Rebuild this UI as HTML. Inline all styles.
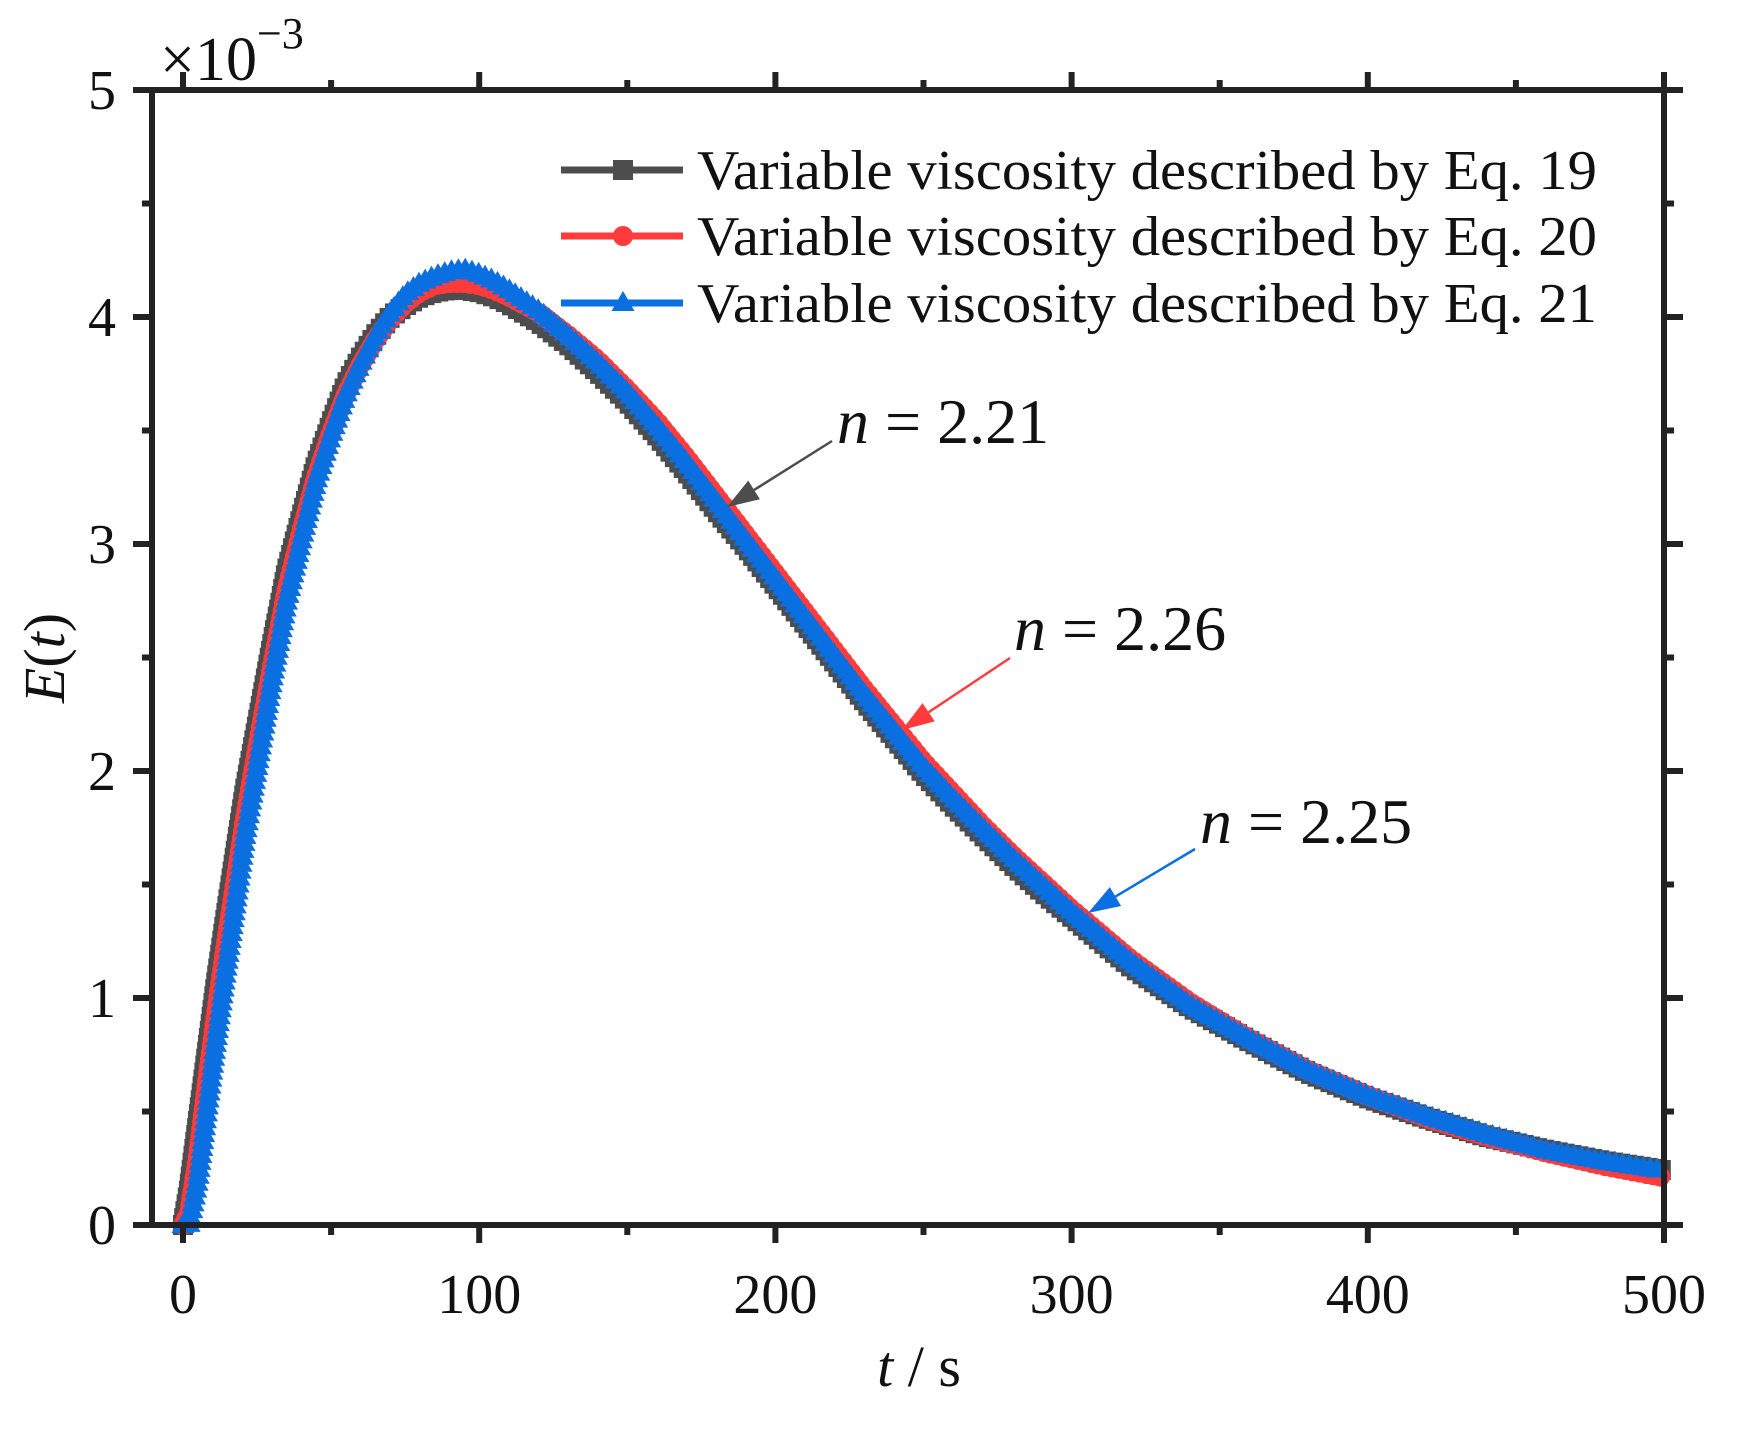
<!DOCTYPE html>
<html><head><meta charset="utf-8"><style>
html,body{margin:0;padding:0;background:#fff;}
svg text{font-family:"Liberation Serif",serif;fill:#111;}
</style></head><body>
<svg id="chart" width="1746" height="1426" viewBox="0 0 1746 1426" xmlns="http://www.w3.org/2000/svg">
<g id="series"></g>
<g id="axes"></g>
<g id="legend"></g>
<g id="annot"></g>
</svg>
<script>
const times = [0,2,5,8,11,14,17,21,25,30,35,40,45,50,55,60,65,70,75,80,85,90,95,100,105,110,120,130,140,150,160,170,180,190,200,210,220,230,240,250,260,270,280,290,300,320,340,360,380,400,420,440,460,480,500];
const eq19 = [0,0.15,0.45,0.75,1.05,1.32,1.58,1.92,2.2,2.55,2.88,3.12,3.35,3.53,3.7,3.82,3.92,4.0,4.05,4.09,4.11,4.12,4.12,4.11,4.09,4.06,3.98,3.88,3.76,3.63,3.48,3.32,3.15,2.99,2.82,2.65,2.48,2.31,2.15,1.99,1.85,1.72,1.59,1.47,1.36,1.14,0.96,0.81,0.67,0.56,0.47,0.39,0.33,0.28,0.24];
const eq20 = [0,0.05,0.3,0.62,0.92,1.2,1.46,1.8,2.1,2.46,2.8,3.06,3.3,3.49,3.66,3.79,3.9,3.99,4.06,4.11,4.14,4.15,4.15,4.14,4.12,4.09,4.02,3.92,3.81,3.68,3.54,3.38,3.21,3.04,2.87,2.7,2.53,2.36,2.2,2.04,1.9,1.76,1.63,1.51,1.39,1.17,0.98,0.82,0.68,0.57,0.47,0.39,0.32,0.26,0.21];
const eq21 = [0,0,0.2,0.5,0.8,1.08,1.35,1.72,2.02,2.4,2.75,3.02,3.28,3.48,3.66,3.8,3.92,4.02,4.1,4.15,4.18,4.2,4.21,4.19,4.16,4.12,4.03,3.92,3.8,3.67,3.52,3.36,3.19,3.02,2.85,2.68,2.51,2.34,2.18,2.02,1.88,1.75,1.62,1.5,1.38,1.16,0.97,0.82,0.68,0.57,0.48,0.4,0.33,0.28,0.24];
const xTicks = [0,100,200,300,400,500];
const yTicks = [0,1,2,3,4,5];
const legendLabels = ["Variable viscosity described by Eq. 19","Variable viscosity described by Eq. 20","Variable viscosity described by Eq. 21"];
const annLabels = ["2.21","2.26","2.25"];

const NS="http://www.w3.org/2000/svg";
const X0=183,X1=1664,Y0=1225,Y1=90;
function sx(t){return X0+(X1-X0)*t/500;}
function sy(v){return Y0-(Y0-Y1)*v/5;}
function mk(tag,attrs,parent){const e=document.createElementNS(NS,tag);for(const k in attrs)e.setAttribute(k,attrs[k]);parent.appendChild(e);return e;}

const colors=["#4d4d4d","#ff3b3b","#0a6fe0"];
const shapes=["square","circle","triangle"];
function marker(shape,x,y,c,g,s){
  let m;
  if(shape==="square") m=mk("rect",{x:x-s,y:y-s,width:2*s,height:2*s,fill:c},g);
  else if(shape==="circle") m=mk("circle",{cx:x,cy:y,r:s,fill:c},g);
  else m=mk("polygon",{points:`${x},${y-s*1.2} ${x-s*1.15},${y+s*0.8} ${x+s*1.15},${y+s*0.8}`,fill:c},g);
  return m;
}
const seriesG=document.getElementById("series");
[eq19,eq20,eq21].forEach((vals,i)=>{
  const g=mk("g",{},seriesG);
  
  
  const d=vals.map((v,j)=>(j?"L":"M")+sx(times[j]).toFixed(1)+","+sy(v).toFixed(1)).join(" ");
  const p=mk("path",{d:d,fill:"none",stroke:colors[i],"stroke-width":8,"stroke-linejoin":"round"},g);
  
  
  const L=p.getTotalLength();
  for(let l=0;l<=L;l+=7){
    const pt=p.getPointAtLength(l);
    const m=marker(shapes[i],pt.x,pt.y,colors[i],g,10);
    
    
  }
});

const ax=document.getElementById("axes");
const frame=mk("rect",{x:X0-31,y:Y1,width:X1-(X0-31),height:Y0-Y1,fill:"none",stroke:"#222","stroke-width":6},ax);


const XL=X0-31;
for(let t=0;t<=500;t+=50){
  const major=t%100===0, len=major?18:10, x=sx(t);
  mk("line",{x1:x,y1:Y0,x2:x,y2:Y0+len,stroke:"#222","stroke-width":6},ax);
  mk("line",{x1:x,y1:Y1,x2:x,y2:Y1-len,stroke:"#222","stroke-width":6},ax);
}
for(let v=0;v<=5;v+=0.5){
  const major=Math.abs(v-Math.round(v))<1e-9, len=major?19:10, y=sy(v);
  mk("line",{x1:XL,y1:y,x2:XL-len,y2:y,stroke:"#222","stroke-width":6},ax);
  mk("line",{x1:X1,y1:y,x2:X1+len,y2:y,stroke:"#222","stroke-width":6},ax);
}
xTicks.forEach(t=>{
  const e=mk("text",{x:sx(t),y:1313,"font-size":56,"text-anchor":"middle"},ax);
  e.textContent=t;
  
  
});
yTicks.forEach(v=>{
  const e=mk("text",{x:116,y:sy(v)+19,"font-size":56,"text-anchor":"end"},ax);
  e.textContent=v;
  
  
});
const mult=mk("text",{x:160,y:80,"font-size":62},ax);
mult.innerHTML='×10<tspan dy="-32" font-size="44">−3</tspan>';


const xt=mk("text",{x:919,y:1386,"font-size":58,"text-anchor":"middle"},ax);
xt.innerHTML='<tspan font-style="italic">t</tspan> / s';


const yt=mk("text",{x:0,y:0,"font-size":58,"text-anchor":"middle",transform:"translate(64,658) rotate(-90)"},ax);
yt.innerHTML='<tspan font-style="italic">E</tspan>(<tspan font-style="italic">t</tspan>)';



const lg=document.getElementById("legend");
const rowY=[170,236,303];
legendLabels.forEach((lab,i)=>{
  const g=mk("g",{},lg);
  
  
  mk("line",{x1:561,y1:rowY[i],x2:683,y2:rowY[i],stroke:colors[i],"stroke-width":7},g);
  marker(shapes[i],623,rowY[i],colors[i],g,10);
  const t=mk("text",{x:697,y:rowY[i]+19,"font-size":56,textLength:900,lengthAdjust:"spacingAndGlyphs"},g);
  t.textContent=lab;
});

const an=document.getElementById("annot");
const annText=[[837,443],[1014,650],[1200,843]];
const annArrow=[[832,441,727,507],[1010,658,902,730],[1195,849,1088,913]];
annLabels.forEach((lab,i)=>{
  const g=mk("g",{},an);
  
  
  const t=mk("text",{x:annText[i][0],y:annText[i][1],"font-size":64},g);
  t.innerHTML='<tspan font-style="italic">n</tspan> = '+lab;
  const [x1,y1,x2,y2]=annArrow[i];
  const dx=x2-x1,dy=y2-y1,L=Math.hypot(dx,dy),ux=dx/L,uy=dy/L,hl=32,hw=11;
  const bx=x2-ux*hl,by=y2-uy*hl;
  mk("line",{x1:x1,y1:y1,x2:bx,y2:by,stroke:colors[i],"stroke-width":2.5},g);
  mk("polygon",{points:`${x2},${y2} ${bx-uy*hw},${by+ux*hw} ${bx+uy*hw},${by-ux*hw}`,fill:colors[i]},g);
});
</script>
</body></html>
